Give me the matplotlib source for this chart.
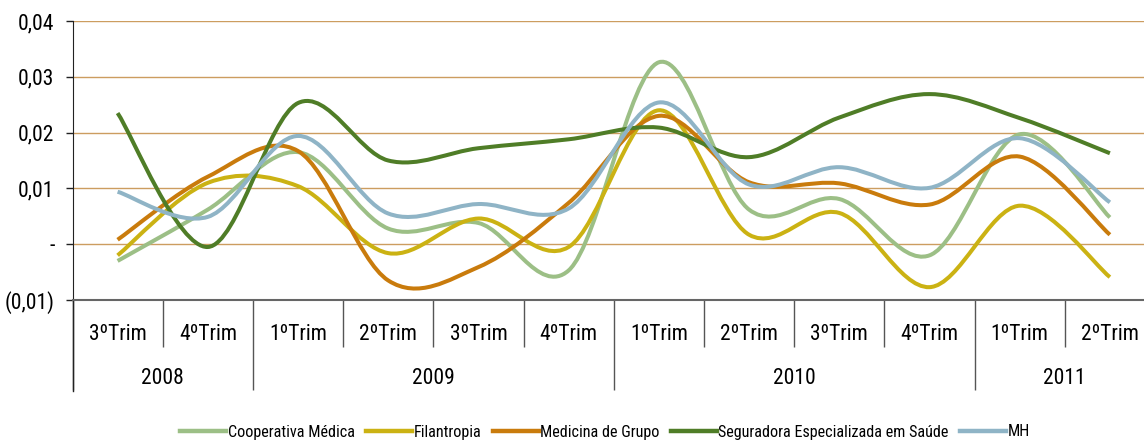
import matplotlib
matplotlib.use('Agg')
import matplotlib.pyplot as plt
from matplotlib.path import Path
from matplotlib.patches import PathPatch
from matplotlib.lines import Line2D
from matplotlib.ticker import FuncFormatter, FixedLocator

plt.rcParams['font.family'] = ['Liberation Sans Narrow', 'Roboto Condensed', 'Roboto', 'DejaVu Sans']

######Data######

quarters = ['3ºTrim', '4ºTrim', '1ºTrim', '2ºTrim', '3ºTrim', '4ºTrim',
            '1ºTrim', '2ºTrim', '3ºTrim', '4ºTrim', '1ºTrim', '2ºTrim']
years = ['2008', '2009', '2010', '2011']
quarters_per_year = [2, 4, 4, 2]

cooperativa = [-0.0030, 0.0062, 0.0165, 0.0028, 0.0038, -0.0047,
               0.0326, 0.0062, 0.0081, -0.0020, 0.0197, 0.0048]
filantropia = [-0.0020, 0.0110, 0.0104, -0.0016, 0.0046, -0.0005,
               0.0240, 0.0017, 0.0056, -0.0077, 0.0069, -0.0059]
medicina = [0.0008, 0.0121, 0.0167, -0.0065, -0.0041, 0.0074,
            0.0230, 0.0111, 0.0109, 0.0071, 0.0157, 0.0017]
seguradora = [0.0235, -0.0005, 0.0253, 0.0150, 0.0172, 0.0188,
              0.0209, 0.0156, 0.0227, 0.0269, 0.0226, 0.0163]
mh = [0.0094, 0.0049, 0.0194, 0.0055, 0.0072, 0.0064,
      0.0254, 0.0107, 0.0138, 0.0101, 0.0190, 0.0075]

series = [
    ('Cooperativa Médica', cooperativa, '#9CBF86'),
    ('Filantropia', filantropia, '#CBB213'),
    ('Medicina de Grupo', medicina, '#C97B0C'),
    ('Seguradora Especializada em Saúde', seguradora, '#4F7D27'),
    ('MH', mh, '#8FB4C6'),
]


def smooth_path(xs, ys):
    # Excel-like smoothed line: cubic Bezier segments (Catmull-Rom control points)
    n = len(xs)
    verts = [(xs[0], ys[0])]
    codes = [Path.MOVETO]
    for i in range(n - 1):
        x0, y0 = (xs[i - 1], ys[i - 1]) if i > 0 else (xs[i], ys[i])
        x3, y3 = (xs[i + 2], ys[i + 2]) if i + 2 < n else (xs[i + 1], ys[i + 1])
        c1 = (xs[i] + (xs[i + 1] - x0) / 6, ys[i] + (ys[i + 1] - y0) / 6)
        c2 = (xs[i + 1] - (x3 - xs[i]) / 6, ys[i + 1] - (y3 - ys[i]) / 6)
        verts += [c1, c2, (xs[i + 1], ys[i + 1])]
        codes += [Path.CURVE4] * 3
    return Path(verts, codes)


######Plot######

W, H = 1144, 443
fig = plt.figure(figsize=(W / 100, H / 100), dpi=100)
ax = fig.add_axes([72.5 / W, 1 - 300 / H, (1155 - 72.5) / W, 279 / H])

x = list(range(len(quarters)))
handles = []
for name, vals, color in series:
    ax.add_patch(PathPatch(smooth_path(x, vals), facecolor='none',
                           edgecolor=color, lw=2.9, capstyle='butt', zorder=3))
    handles.append(Line2D([], [], color=color, lw=3.2, label=name))

ax.set_xlim(-0.5, len(quarters) - 0.5)
ax.set_ylim(-0.01, 0.04)

# y axis
yticks = [-0.01, 0.0, 0.01, 0.02, 0.03, 0.04]
ax.set_yticks(yticks)


def fmt(v, pos):
    if abs(v) < 1e-9:
        return '-'
    s = f'{abs(v):.2f}'.replace('.', ',')
    return f'({s})' if v < 0 else s


ax.yaxis.set_major_formatter(FuncFormatter(fmt))
ax.tick_params(axis='y', length=5, width=1, color='#222222', labelsize=15.5, pad=8)
for y in yticks[1:]:
    ax.axhline(y, color='#CC9D60', lw=1.0, zorder=1)

# x axis: quarter boundaries (short) and year boundaries (long)
bounds = [-0.5]
for q in quarters_per_year:
    bounds.append(bounds[-1] + q)
minor = [b + 0.5 for b in range(len(quarters) - 1) if b + 0.5 not in bounds]
ax.xaxis.set_major_locator(FixedLocator(bounds))
ax.xaxis.set_minor_locator(FixedLocator(minor))
ax.tick_params(axis='x', which='major', length=65, width=1, color='#555555', labelbottom=False)
ax.tick_params(axis='x', which='minor', length=34, width=1, color='#555555', labelbottom=False)

for i, q in enumerate(quarters):
    ax.text(i, -0.125, q, transform=ax.get_xaxis_transform(), ha='center', va='center',
            fontsize=15.5)
for k, yr in enumerate(years):
    mid = (bounds[k] + bounds[k + 1]) / 2
    ax.text(mid, -0.283, yr, transform=ax.get_xaxis_transform(), ha='center', va='center',
            fontsize=15.5)

for side in ['top', 'right']:
    ax.spines[side].set_visible(False)
ax.spines['bottom'].set_color('#666666')
ax.spines['bottom'].set_linewidth(1.5)
ax.spines['left'].set_color('#222222')
ax.spines['left'].set_bounds(-0.01, 0.04)
# left line continues down through the category area
ax.plot([-0.5, -0.5], [0, -0.325], transform=ax.get_xaxis_transform(), color='#222222',
        lw=1, clip_on=False)

fig.legend(handles=handles, loc='center', bbox_to_anchor=(605 / W, 1 - 432 / H),
           ncol=5, frameon=False, fontsize=11.6, handlelength=2.85, handletextpad=0.1,
           columnspacing=0.7, borderpad=0)

fig.savefig('out.png', dpi=100)
